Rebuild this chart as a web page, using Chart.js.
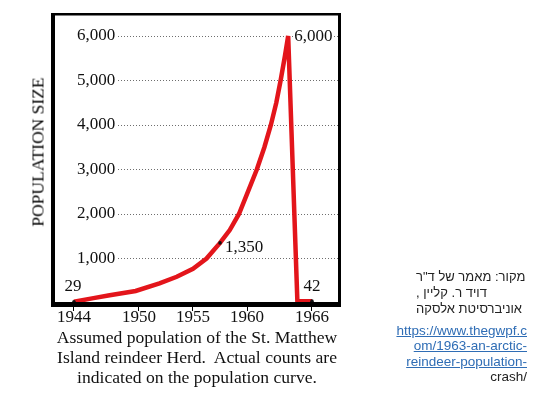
<!DOCTYPE html>
<html>
<head>
<meta charset="utf-8">
<script src="https://cdn.jsdelivr.net/npm/chart.js@4.4.1/dist/chart.umd.min.js"></script>
<style>
  body { margin: 0; background: #fff; }
  #page { position: relative; width: 540px; height: 397px; overflow: hidden; }
  #chart { position: absolute; left: 0; top: 0; }
  .serif { font-family: "Liberation Serif", "DejaVu Serif", serif; color: #000; }
  #ytitle { position: absolute; left: 38px; top: 152px; font-size: 17.5px; white-space: nowrap;
    transform: translate(-50%, -50%) rotate(-90deg); }
  #caption { position: absolute; left: 0; top: 327px; width: 394px; text-align: center;
    font-size: 17.6px; line-height: 20px; color: #111; }
  #source { position: absolute; left: 416px; top: 269px; font: 13px "Liberation Sans", "DejaVu Sans", sans-serif;
    line-height: 16px; text-align: left; color: #222; }
  #link { position: absolute; right: 13px; top: 323px; font: 13.5px "Liberation Sans", sans-serif;
    line-height: 15.4px; text-align: right; color: #222; }
  #link a { color: #2f6db5; text-decoration: underline; }
</style>
</head>
<body>
<div id="page">
  <canvas id="chart" width="540" height="397"></canvas>
  <div id="ytitle" class="serif">POPULATION SIZE</div>
  <div id="caption" class="serif">Assumed population of the St. Matthew<br>Island reindeer Herd.&nbsp; Actual counts are<br>indicated on the population curve.</div>
  <div id="source" dir="rtl">מקור: מאמר של ד"ר<br>דויד ר. קליין ,<br>אוניברסיטת אלסקה</div>
  <div id="link" dir="ltr"><a>https://www.thegwpf.c</a><br><a>om/1963-an-arctic-</a><br><a>reindeer-population-</a><br>crash/</div>
</div>

<script>
// estimated population curve
const years = [1944, 1945.8, 1947.3, 1949.7, 1951.9, 1953.5, 1955, 1956.25, 1957.5, 1958.4, 1959.25,
  1960, 1960.9, 1961.6, 1962.2, 1962.7, 1963.1, 1963.5, 1963.8, 1964.65, 1966];
const population = [29, 110, 175, 270, 440, 590, 770, 1000, 1350, 1640, 2000,
  2450, 3000, 3500, 4000, 4500, 5000, 5550, 6000, 42, 42];

// actual counts shown on the curve
const countYears = [1944, 1957.5, 1963.8, 1966];
const countValues = [29, 1350, 6000, 42];
const countLabels = ['29', '1,350', '6,000', '42'];

const xTicks = [1944, 1950, 1955, 1960, 1966];
const yTicks = [1000, 2000, 3000, 4000, 5000, 6000];
const yTickLabels = ['1,000', '2,000', '3,000', '4,000', '5,000', '6,000'];

const serif = 'Liberation Serif';

const dottedGrid = {
  id: 'dottedGrid',
  beforeDatasetsDraw(chart) {
    const {ctx, chartArea, scales: {y}} = chart;
    ctx.save();
    ctx.strokeStyle = '#6e6e6e';
    ctx.lineWidth = 1;
    ctx.setLineDash([1, 2]);
    yTicks.forEach(v => {
      const py = Math.round(y.getPixelForValue(v)) + 0.5;
      ctx.beginPath();
      ctx.moveTo(118, py);
      ctx.lineTo(chartArea.right - 2, py);
      ctx.stroke();
    });
    ctx.restore();

    // count labels (white backdrop hides the grid under them)
    const meta = chart.getDatasetMeta(1);
    const offs = [
      {dx: -1, dy: -7, align: 'center'},
      {dx: 5, dy: 5, align: 'left'},
      {dx: 6, dy: 1, align: 'left'},
      {dx: 0, dy: -6, align: 'center'}
    ];
    ctx.save();
    ctx.font = '17px "' + serif + '"';
    meta.data.forEach((pt, i) => {
      const o = offs[i];
      const txt = countLabels[i];
      const w = ctx.measureText(txt).width;
      const tx = pt.x + o.dx;
      const ty = pt.y + o.dy;
      const left = o.align === 'center' ? tx - w / 2 : tx;
      ctx.textAlign = o.align;
      if (i === 2 || i === 1) {
        ctx.textBaseline = 'middle';
        ctx.fillStyle = '#fff';
        ctx.fillRect(left - 1, ty - 7, w + 2, 14);
      } else {
        ctx.textBaseline = 'bottom';
      }
      ctx.fillStyle = '#111';
      ctx.fillText(txt, tx, ty);
    });
    ctx.restore();
  }
};

const frame = {
  id: 'frame',
  afterDatasetsDraw(chart) {
    const {ctx, chartArea: a} = chart;
    ctx.save();
    ctx.fillStyle = '#000';
    ctx.fillRect(a.left - 2, a.top - 1, 4, a.bottom - a.top + 3);   // left
    ctx.fillRect(a.left - 2, a.top - 1, a.right - a.left + 3, 2.5); // top
    ctx.fillRect(a.right - 2, a.top - 1, 3, a.bottom - a.top + 3);  // right
    ctx.fillRect(a.left - 2, a.bottom - 3, a.right - a.left + 3, 5); // bottom
    ctx.restore();
  }
};

new Chart(document.getElementById('chart'), {
  type: 'line',
  data: {
    datasets: [
      {
        data: years.map((x, i) => ({x: x, y: population[i]})),
        borderColor: '#e3151b',
        borderWidth: 4.5,
        borderJoinStyle: 'miter',
        pointRadius: 0,
        tension: 0,
        clip: false
      },
      {
        data: countYears.map((x, i) => ({x: x, y: countValues[i]})),
        showLine: false,
        pointRadius: [1.8, 1.8, 0, 1.8],
        pointBackgroundColor: '#111',
        pointBorderWidth: 0,
        order: -1,
        clip: false
      }
    ]
  },
  plugins: [dottedGrid, frame],
  options: {
    responsive: false,
    animation: false,
    layout: {padding: {left: 5, top: 14, right: 200, bottom: 73.6}},
    plugins: {legend: {display: false}, tooltip: {enabled: false}},
    scales: {
      x: {
        type: 'linear',
        min: 1942.06,
        max: 1968.59,
        afterBuildTicks: s => { s.ticks = xTicks.map(v => ({value: v})); },
        ticks: {
          callback: v => String(v),
          font: {family: serif, size: 17},
          color: '#111',
          padding: -4,
          maxRotation: 0,
          autoSkip: false
        },
        grid: {drawOnChartArea: false, drawTicks: true, tickLength: 6, color: '#000'},
        border: {display: false}
      },
      y: {
        min: -45,
        max: 6494,
        afterBuildTicks: s => { s.ticks = yTicks.map(v => ({value: v})); },
        afterFit: s => { s.paddingTop = 0; s.paddingBottom = 0; },
        ticks: {
          mirror: true,
          crossAlign: 'far',
          padding: 24,
          callback: (v, i) => yTickLabels[i],
          font: {family: serif, size: 17},
          color: '#111'
        },
        grid: {display: false, drawTicks: false},
        border: {display: false}
      }
    }
  }
});
</script>
</body>
</html>
